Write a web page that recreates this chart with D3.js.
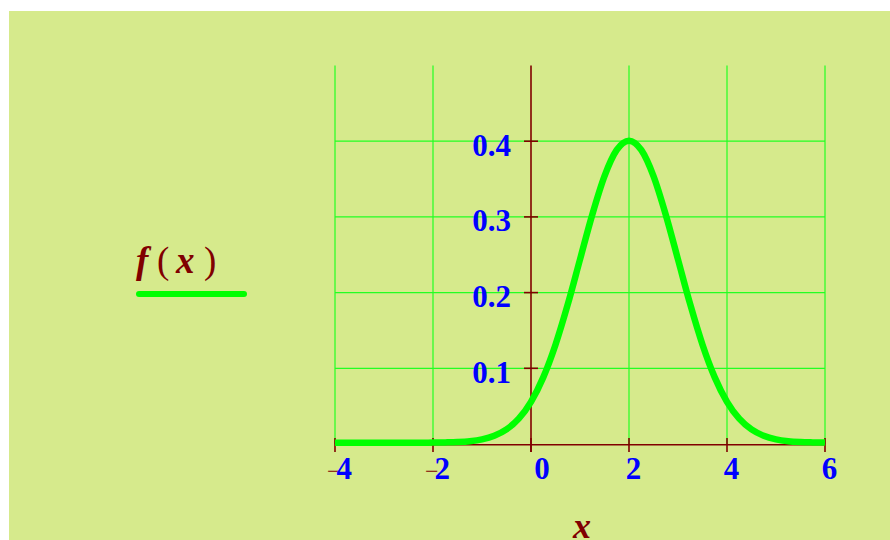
<!DOCTYPE html>
<html>
<head>
<meta charset="utf-8">
<script src="https://cdn.jsdelivr.net/npm/d3@7"></script>
<style>
  html, body { margin: 0; padding: 0; background: #ffffff; }
  svg { display: block; }
</style>
</head>
<body>
<svg id="chart" width="890" height="540"></svg>
<script>
// Density curve f(x), sampled every 0.25 from -4 to 6
const xValues = d3.range(-4, 6.0001, 0.25);
const fValues = [
  0.0000, 0.0000, 0.0000, 0.0000, 0.0000, 0.0000, 0.0000, 0.0000,  // -4 .. -2.25
  0.0001, 0.0004, 0.0009, 0.0020, 0.0044, 0.0091, 0.0175, 0.0317,  // -2 .. -0.25
  0.0540, 0.0863, 0.1295, 0.1826, 0.2420, 0.3011, 0.3521, 0.3867,  //  0 .. 1.75
  0.3989, 0.3867, 0.3521, 0.3011, 0.2420, 0.1826, 0.1295, 0.0863,  //  2 .. 3.75
  0.0540, 0.0317, 0.0175, 0.0091, 0.0044, 0.0020, 0.0009, 0.0004,  //  4 .. 5.75
  0.0001                                                           //  6
];
const xTicks = [-4, -2, 0, 2, 4, 6];
const yTicks = [0.1, 0.2, 0.3, 0.4];
const yLabels = ["0.1", "0.2", "0.3", "0.4"];
const legendLabel = ["f", "(", "x", ")"];
const axisTitle = "x";

const BG = "#d6ea8c";
const GRID = "#22ff22";
const CURVE = "#00ff00";
const AXIS = "#800000";
const TICKTEXT = "#0000ff";

const svg = d3.select("#chart");
svg.append("rect").attr("x", 9).attr("y", 11).attr("width", 881).attr("height", 529).attr("fill", BG);

const x = d3.scaleLinear().domain([-4, 6]).range([335, 825]);
const y = d3.scaleLinear().domain([0, 0.5]).range([444, 65.5]);

// grid
const grid = svg.append("g").attr("stroke", GRID).attr("stroke-width", 1.2).attr("fill", "none");
grid.selectAll("line.v").data(xTicks.filter(d => d !== 0)).join("line")
  .attr("x1", d => x(d)).attr("x2", d => x(d))
  .attr("y1", y(0)).attr("y2", y(0.5));
grid.selectAll("line.h").data(yTicks).join("line")
  .attr("x1", x(-4)).attr("x2", x(6))
  .attr("y1", d => y(d)).attr("y2", d => y(d));

// axes
const ax = svg.append("g").attr("stroke", AXIS).attr("stroke-width", 1.6);
ax.append("line").attr("x1", x(-4)).attr("x2", x(6)).attr("y1", y(0) + 0.8).attr("y2", y(0) + 0.8);
ax.append("line").attr("x1", x(0)).attr("x2", x(0)).attr("y1", y(0.5)).attr("y2", y(0) + 8);
ax.selectAll("line.xt").data(xTicks).join("line")
  .attr("x1", d => x(d)).attr("x2", d => x(d))
  .attr("y1", y(0) - 6).attr("y2", y(0) + 8);
ax.selectAll("line.yt").data(yTicks).join("line")
  .attr("x1", x(0) - 7).attr("x2", x(0) + 7)
  .attr("y1", d => y(d)).attr("y2", d => y(d));

// curve
const line = d3.line().x((d, i) => x(xValues[i])).y(d => y(d)).curve(d3.curveMonotoneX);
svg.append("path").datum(fValues)
  .attr("d", line)
  .attr("fill", "none")
  .attr("stroke", CURVE)
  .attr("stroke-width", 6.5)
  .attr("stroke-linejoin", "round")
  .attr("stroke-linecap", "butt")
  .attr("transform", "translate(0,-1.3)");

// x tick labels: minus sign in dark red, digits in blue
const font = "'Liberation Serif', 'Times New Roman', serif";
const xl = svg.append("g").attr("font-family", font).attr("font-size", 31).attr("font-weight", "bold");
xTicks.forEach(v => {
  const t = xl.append("text")
    .attr("x", x(v) + (v === 0 ? 11 : 4.5))
    .attr("y", 479)
    .attr("text-anchor", "middle");
  if (v < 0) {
    t.append("tspan").attr("fill", AXIS).attr("font-weight", "normal").attr("font-size", 24).text("\u2212");
    t.append("tspan").attr("fill", TICKTEXT).attr("dx", -4).text(String(Math.abs(v)));
  } else {
    t.append("tspan").attr("fill", TICKTEXT).text(String(v));
  }
});

// y tick labels
svg.append("g").attr("font-family", font).attr("font-size", 31).attr("font-weight", "bold")
  .attr("fill", TICKTEXT).attr("text-anchor", "end")
  .selectAll("text").data(yTicks).join("text")
  .attr("x", 511).attr("y", d => y(d) + 14.5)
  .text((d, i) => yLabels[i]);

// legend: f(x) with its line sample
const legendX = [136, 157, 176, 204];
svg.append("g").attr("font-family", font).attr("font-size", 37).attr("fill", AXIS)
  .selectAll("text").data(legendLabel).join("text")
  .attr("x", (d, i) => legendX[i]).attr("y", 273)
  .attr("font-style", d => (d === "(" || d === ")") ? "normal" : "italic")
  .attr("font-weight", d => (d === "(" || d === ")") ? "normal" : "bold")
  .text(d => d);
svg.append("line").attr("x1", 139).attr("x2", 244).attr("y1", 294).attr("y2", 294)
  .attr("stroke", CURVE).attr("stroke-width", 6).attr("stroke-linecap", "round");

// axis title
svg.append("text").attr("x", 582).attr("y", 538).attr("text-anchor", "middle")
  .attr("font-family", font).attr("font-size", 36).attr("font-style", "italic").attr("font-weight", "bold")
  .attr("fill", AXIS).text(axisTitle);
</script>
</body>
</html>
